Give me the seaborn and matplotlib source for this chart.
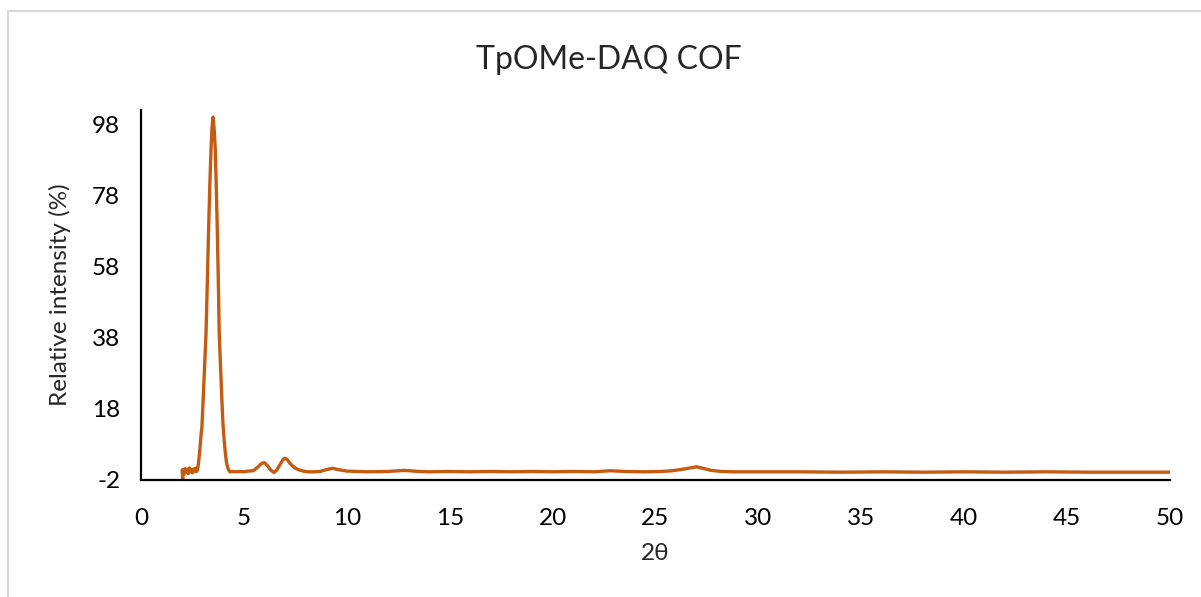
import matplotlib
matplotlib.use("Agg")
import matplotlib.pyplot as plt
import seaborn as sns
import pandas as pd
from matplotlib.patches import Rectangle

# ---- data ----
two_theta = [2.00, 2.02, 2.06, 2.10, 2.15, 2.20, 2.25, 2.30, 2.35, 2.40, 2.45, 2.50,
             2.55, 2.60, 2.65, 2.70, 2.75, 2.80, 2.86, 2.91, 2.96, 3.02, 3.09, 3.16,
             3.22, 3.28, 3.34, 3.40, 3.45, 3.50, 3.55, 3.61, 3.66, 3.71, 3.76, 3.80,
             3.87, 3.93, 3.98, 4.04, 4.10, 4.16, 4.24, 4.32, 4.45, 4.60, 4.80, 5.00,
             5.20, 5.45, 5.65, 5.85, 6.00, 6.15, 6.30, 6.46, 6.60, 6.80, 6.92, 7.00,
             7.10, 7.25, 7.45, 7.65, 7.88, 8.10, 8.40, 8.70, 9.00, 9.30, 9.60, 10.0,
             10.5, 11.0, 12.0, 12.8, 13.5, 14.0, 15.0, 16.0, 17.0, 18.0, 19.0, 20.0,
             21.0, 22.0, 22.8, 23.5, 24.5, 25.3, 25.8, 26.3, 26.7, 27.0, 27.3, 27.7,
             28.2, 28.8, 30.0, 32.0, 34.0, 36.0, 38.0, 40.0, 42.0, 44.0, 46.0, 48.0,
             50.0]
intensity = [0.8, -2.0, 0.9, -0.3, 1.2, 0.2, 1.0, -0.2, 1.4, 0.3, 0.9, 0.0,
             1.1, 0.5, 1.3, 0.4, 1.0, 3.1, 6.5, 10.2, 13.0, 20.5, 30.0, 39.3,
             53.0, 67.4, 80.0, 90.7, 97.0, 100.0, 97.0, 90.7, 80.0, 67.4, 53.0, 39.3,
             29.0, 20.5, 14.0, 9.2, 5.5, 2.7, 1.0, 0.3, 0.4, 0.3, 0.4, 0.3,
             0.5, 0.6, 1.5, 2.6, 2.9, 2.0, 0.8, 0.1, 0.8, 2.8, 3.9, 4.1,
             3.8, 2.6, 1.5, 0.9, 0.5, 0.3, 0.3, 0.4, 0.9, 1.3, 0.9, 0.5,
             0.4, 0.3, 0.4, 0.7, 0.4, 0.3, 0.4, 0.3, 0.4, 0.3, 0.4, 0.3,
             0.4, 0.3, 0.6, 0.4, 0.3, 0.4, 0.6, 1.0, 1.4, 1.7, 1.3, 0.7,
             0.4, 0.3, 0.3, 0.3, 0.2, 0.3, 0.2, 0.3, 0.2, 0.3, 0.2, 0.2,
             0.2]
x_ticks = [0, 5, 10, 15, 20, 25, 30, 35, 40, 45, 50]
y_ticks = [-2, 18, 38, 58, 78, 98]
title = "TpOMe-DAQ COF"
x_label = "2θ"
y_label = "Relative intensity (%)"

df = pd.DataFrame({"two_theta": two_theta, "intensity": intensity})

sns.set_style("white")
plt.rcParams["font.family"] = ["Lato", "DejaVu Sans"]

W, H = 1201, 597
fig = plt.figure(figsize=(W / 100, H / 100), dpi=100)
ax = fig.add_axes([141 / W, 1 - 480 / H, (1170 - 141) / W, (480 - 110) / H])

sns.lineplot(data=df, x="two_theta", y="intensity", ax=ax, color="#C55A11",
             linewidth=2.4, estimator=None, sort=False)

ax.set_xlim(0, 50)
ax.set_ylim(-2, 102)
ax.set_xticks(x_ticks)
ax.set_yticks(y_ticks)
ax.set_xticklabels([str(t) for t in x_ticks])
ax.set_yticklabels([str(t) for t in y_ticks])
ax.tick_params(axis="both", length=0, labelsize=17.5, colors="black")
ax.tick_params(axis="x", pad=20)
ax.tick_params(axis="y", pad=15)

for side in ["top", "right"]:
    ax.spines[side].set_visible(False)
for side in ["left", "bottom"]:
    ax.spines[side].set_color("black")
    ax.spines[side].set_linewidth(1.6)

ax.set_xlabel("")
ax.set_ylabel("")
fig.text(655 / W, 1 - 553 / H, x_label, ha="center", va="center", fontsize=17.5)
fig.text(60 / W, 1 - 295 / H, y_label, ha="center", va="center", rotation=90, fontsize=17.5)
fig.text(609 / W, 1 - 60 / H, title, ha="center", va="center", fontsize=23)

fig.patches.append(Rectangle((8 / W, -0.1), 1.2, 1.1 - 11 / H, transform=fig.transFigure,
                             fill=False, edgecolor="#D9D9D9", linewidth=1.5))

fig.savefig("out.png", dpi=100)
